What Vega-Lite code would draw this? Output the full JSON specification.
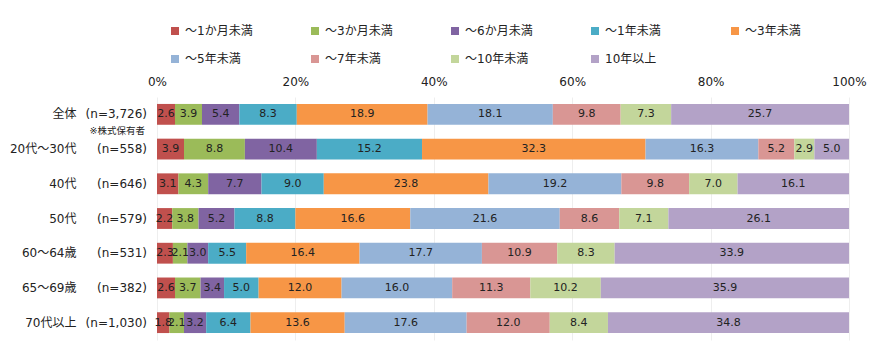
{
  "$schema": "https://vega.github.io/schema/vega-lite/v6.json",
  "width": 692,
  "height": 243,
  "autosize": {"type": "none"},
  "padding": {"left": 157, "top": 97, "right": 21, "bottom": 10},
  "background": "white",
  "config": {
    "view": {"stroke": null},
    "font": "DejaVu Sans, Noto Sans CJK JP",
    "axis": {"labelFont": "DejaVu Sans, Noto Sans CJK JP", "labelColor": "#222"},
    "legend": {"labelFont": "DejaVu Sans, Noto Sans CJK JP"}
  },
  "data": {
    "values": [
      {"g": "全体", "n": "(n=3,726)", "c": "～1か月未満", "k": 1, "v": 2.6},
      {"g": "全体", "n": "(n=3,726)", "c": "～3か月未満", "k": 2, "v": 3.9},
      {"g": "全体", "n": "(n=3,726)", "c": "～6か月未満", "k": 3, "v": 5.4},
      {"g": "全体", "n": "(n=3,726)", "c": "～1年未満", "k": 4, "v": 8.3},
      {"g": "全体", "n": "(n=3,726)", "c": "～3年未満", "k": 5, "v": 18.9},
      {"g": "全体", "n": "(n=3,726)", "c": "～5年未満", "k": 6, "v": 18.1},
      {"g": "全体", "n": "(n=3,726)", "c": "～7年未満", "k": 7, "v": 9.8},
      {"g": "全体", "n": "(n=3,726)", "c": "～10年未満", "k": 8, "v": 7.3},
      {"g": "全体", "n": "(n=3,726)", "c": "10年以上", "k": 9, "v": 25.7},
      {"g": "20代～30代", "n": "(n=558)", "c": "～1か月未満", "k": 1, "v": 3.9},
      {"g": "20代～30代", "n": "(n=558)", "c": "～3か月未満", "k": 2, "v": 8.8},
      {"g": "20代～30代", "n": "(n=558)", "c": "～6か月未満", "k": 3, "v": 10.4},
      {"g": "20代～30代", "n": "(n=558)", "c": "～1年未満", "k": 4, "v": 15.2},
      {"g": "20代～30代", "n": "(n=558)", "c": "～3年未満", "k": 5, "v": 32.3},
      {"g": "20代～30代", "n": "(n=558)", "c": "～5年未満", "k": 6, "v": 16.3},
      {"g": "20代～30代", "n": "(n=558)", "c": "～7年未満", "k": 7, "v": 5.2},
      {"g": "20代～30代", "n": "(n=558)", "c": "～10年未満", "k": 8, "v": 2.9},
      {"g": "20代～30代", "n": "(n=558)", "c": "10年以上", "k": 9, "v": 5.0},
      {"g": "40代", "n": "(n=646)", "c": "～1か月未満", "k": 1, "v": 3.1},
      {"g": "40代", "n": "(n=646)", "c": "～3か月未満", "k": 2, "v": 4.3},
      {"g": "40代", "n": "(n=646)", "c": "～6か月未満", "k": 3, "v": 7.7},
      {"g": "40代", "n": "(n=646)", "c": "～1年未満", "k": 4, "v": 9.0},
      {"g": "40代", "n": "(n=646)", "c": "～3年未満", "k": 5, "v": 23.8},
      {"g": "40代", "n": "(n=646)", "c": "～5年未満", "k": 6, "v": 19.2},
      {"g": "40代", "n": "(n=646)", "c": "～7年未満", "k": 7, "v": 9.8},
      {"g": "40代", "n": "(n=646)", "c": "～10年未満", "k": 8, "v": 7.0},
      {"g": "40代", "n": "(n=646)", "c": "10年以上", "k": 9, "v": 16.1},
      {"g": "50代", "n": "(n=579)", "c": "～1か月未満", "k": 1, "v": 2.2},
      {"g": "50代", "n": "(n=579)", "c": "～3か月未満", "k": 2, "v": 3.8},
      {"g": "50代", "n": "(n=579)", "c": "～6か月未満", "k": 3, "v": 5.2},
      {"g": "50代", "n": "(n=579)", "c": "～1年未満", "k": 4, "v": 8.8},
      {"g": "50代", "n": "(n=579)", "c": "～3年未満", "k": 5, "v": 16.6},
      {"g": "50代", "n": "(n=579)", "c": "～5年未満", "k": 6, "v": 21.6},
      {"g": "50代", "n": "(n=579)", "c": "～7年未満", "k": 7, "v": 8.6},
      {"g": "50代", "n": "(n=579)", "c": "～10年未満", "k": 8, "v": 7.1},
      {"g": "50代", "n": "(n=579)", "c": "10年以上", "k": 9, "v": 26.1},
      {"g": "60～64歳", "n": "(n=531)", "c": "～1か月未満", "k": 1, "v": 2.3},
      {"g": "60～64歳", "n": "(n=531)", "c": "～3か月未満", "k": 2, "v": 2.1},
      {"g": "60～64歳", "n": "(n=531)", "c": "～6か月未満", "k": 3, "v": 3.0},
      {"g": "60～64歳", "n": "(n=531)", "c": "～1年未満", "k": 4, "v": 5.5},
      {"g": "60～64歳", "n": "(n=531)", "c": "～3年未満", "k": 5, "v": 16.4},
      {"g": "60～64歳", "n": "(n=531)", "c": "～5年未満", "k": 6, "v": 17.7},
      {"g": "60～64歳", "n": "(n=531)", "c": "～7年未満", "k": 7, "v": 10.9},
      {"g": "60～64歳", "n": "(n=531)", "c": "～10年未満", "k": 8, "v": 8.3},
      {"g": "60～64歳", "n": "(n=531)", "c": "10年以上", "k": 9, "v": 33.9},
      {"g": "65～69歳", "n": "(n=382)", "c": "～1か月未満", "k": 1, "v": 2.6},
      {"g": "65～69歳", "n": "(n=382)", "c": "～3か月未満", "k": 2, "v": 3.7},
      {"g": "65～69歳", "n": "(n=382)", "c": "～6か月未満", "k": 3, "v": 3.4},
      {"g": "65～69歳", "n": "(n=382)", "c": "～1年未満", "k": 4, "v": 5.0},
      {"g": "65～69歳", "n": "(n=382)", "c": "～3年未満", "k": 5, "v": 12.0},
      {"g": "65～69歳", "n": "(n=382)", "c": "～5年未満", "k": 6, "v": 16.0},
      {"g": "65～69歳", "n": "(n=382)", "c": "～7年未満", "k": 7, "v": 11.3},
      {"g": "65～69歳", "n": "(n=382)", "c": "～10年未満", "k": 8, "v": 10.2},
      {"g": "65～69歳", "n": "(n=382)", "c": "10年以上", "k": 9, "v": 35.9},
      {"g": "70代以上", "n": "(n=1,030)", "c": "～1か月未満", "k": 1, "v": 1.8},
      {"g": "70代以上", "n": "(n=1,030)", "c": "～3か月未満", "k": 2, "v": 2.1},
      {"g": "70代以上", "n": "(n=1,030)", "c": "～6か月未満", "k": 3, "v": 3.2},
      {"g": "70代以上", "n": "(n=1,030)", "c": "～1年未満", "k": 4, "v": 6.4},
      {"g": "70代以上", "n": "(n=1,030)", "c": "～3年未満", "k": 5, "v": 13.6},
      {"g": "70代以上", "n": "(n=1,030)", "c": "～5年未満", "k": 6, "v": 17.6},
      {"g": "70代以上", "n": "(n=1,030)", "c": "～7年未満", "k": 7, "v": 12.0},
      {"g": "70代以上", "n": "(n=1,030)", "c": "～10年未満", "k": 8, "v": 8.4},
      {"g": "70代以上", "n": "(n=1,030)", "c": "10年以上", "k": 9, "v": 34.8}
    ]
  },
  "encoding": {
    "y": {
      "field": "g",
      "type": "nominal",
      "sort": ["全体", "20代～30代", "40代", "50代", "60～64歳", "65～69歳", "70代以上"],
      "scale": {"paddingInner": 0.4, "paddingOuter": 0.2},
      "axis": {"title": null, "domain": false, "ticks": false, "labelPadding": 81, "labelFontSize": 12, "labelColor": "#222"}
    }
  },
  "layer": [
    {
      "mark": {"type": "bar"},
      "encoding": {
        "x": {
          "field": "v",
          "type": "quantitative",
          "stack": "normalize",
          "scale": {"domain": [0, 1], "nice": false},
          "axis": {"orient": "top", "title": null, "values": [0, 0.2, 0.4, 0.6, 0.8, 1], "format": ".0%", "labelFlush": false, "domain": false, "ticks": false, "labelFontSize": 12, "labelPadding": 9, "gridColor": "#EEEEEE", "labelColor": "#222"}
        },
        "order": {"field": "k", "type": "quantitative"},
        "color": {
          "field": "c",
          "type": "nominal",
          "scale": {
            "domain": ["～1か月未満", "～3か月未満", "～6か月未満", "～1年未満", "～3年未満", "～5年未満", "～7年未満", "～10年未満", "10年以上"],
            "range": ["#C0504D", "#9BBB59", "#8064A2", "#4BACC6", "#F79646", "#95B3D7", "#D99694", "#C3D69B", "#B3A2C7"]
          },
          "legend": {
            "title": null,
            "orient": "none",
            "legendX": 12,
            "legendY": -72,
            "direction": "horizontal",
            "columns": 5,
            "gridAlign": "all",
            "columnPadding": 56,
            "rowPadding": 16,
            "symbolType": "square",
            "symbolSize": 64,
            "symbolStrokeWidth": 0,
            "labelFontSize": 12,
            "labelColor": "#222",
            "labelOffset": 4
          }
        }
      }
    },
    {
      "mark": {"type": "text", "fontSize": 11, "color": "#222"},
      "encoding": {
        "x": {"field": "v", "type": "quantitative", "stack": "normalize", "bandPosition": 0.5},
        "order": {"field": "k", "type": "quantitative"},
        "detail": {"field": "c", "type": "nominal"},
        "text": {"field": "v", "type": "quantitative", "format": ".1f"}
      }
    },
    {
      "transform": [{"filter": "datum.k == 1"}],
      "mark": {"type": "text", "fontSize": 12, "color": "#222", "align": "right", "dx": -10},
      "encoding": {
        "x": {"datum": 0, "type": "quantitative"},
        "text": {"field": "n"}
      }
    },
    {
      "transform": [{"filter": "datum.k == 1 && datum.g == '全体'"}],
      "mark": {"type": "text", "fontSize": 9.5, "color": "#222", "align": "right", "dx": -12, "dy": 17},
      "encoding": {
        "x": {"datum": 0, "type": "quantitative"},
        "text": {"value": "※株式保有者"}
      }
    }
  ]
}
